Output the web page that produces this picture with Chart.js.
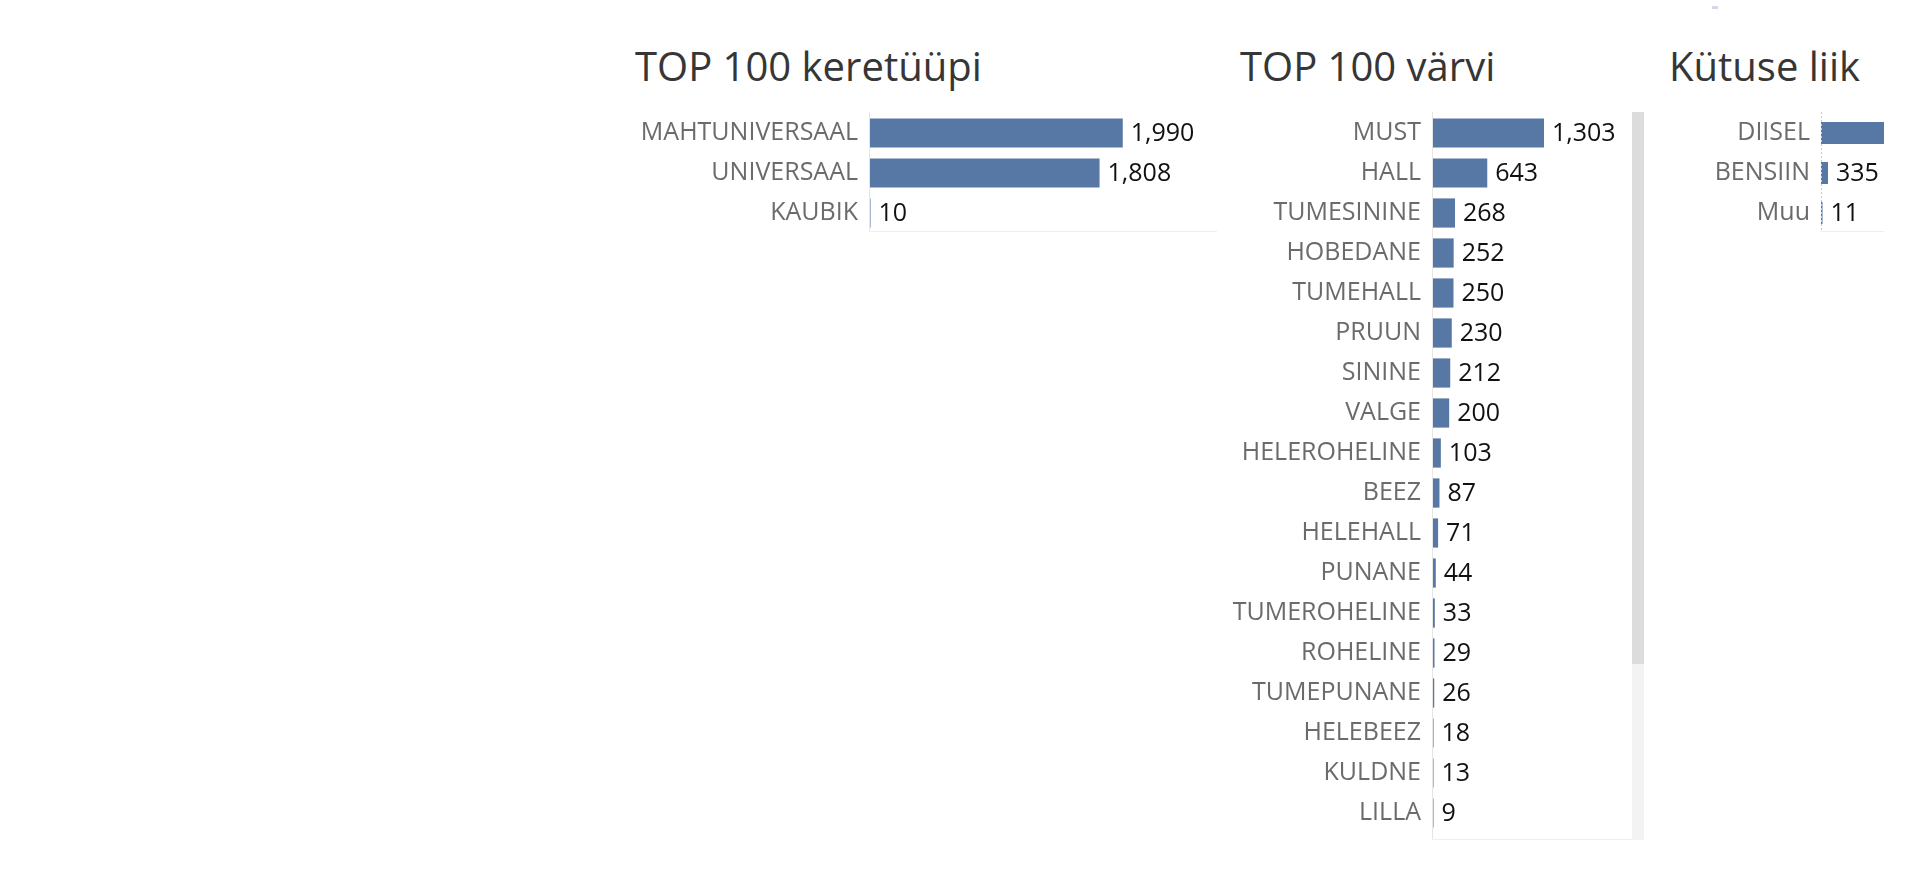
<!DOCTYPE html>
<html>
<head>
<meta charset="utf-8">
<script src="https://cdn.jsdelivr.net/npm/chart.js@4"></script>
<style>
  html, body { margin: 0; padding: 0; background: #fff; }
  body { width: 1914px; height: 892px; position: relative; overflow: hidden; font-family: "Open Sans", sans-serif; }
  .title { position: absolute; top: 41px; font-size: 40px; font-weight: 400; color: #363636; white-space: nowrap; line-height: 50px; }
  canvas { position: absolute; }
  .scroll { position: absolute; left: 1632px; width: 12px; }
</style>
</head>
<body>
<div class="title" style="left:635px">TOP 100 keretüüpi</div>
<div class="title" style="left:1240px">TOP 100 värvi</div>
<div class="title" style="left:1669px">Kütuse liik</div>
<div style="position:absolute;left:1712px;top:6px;width:6px;height:3px;background:#d3dae4"></div>

<canvas id="bodyChart" width="617" height="145" style="left:600px;top:100px"></canvas>
<canvas id="colorChart" width="432" height="745" style="left:1200px;top:100px"></canvas>
<canvas id="fuelChart" width="204" height="145" style="left:1680px;top:100px"></canvas>

<div class="scroll" style="top:112px;height:552px;background:#dcdcdc"></div>
<div class="scroll" style="top:664px;height:176px;background:#f3f3f3"></div>

<script>
// TOP 100 keretüüpi
const bodyLabels = ["MAHTUNIVERSAAL", "UNIVERSAAL", "KAUBIK"];
const bodyValues = [1990, 1808, 10];

// TOP 100 värvi
const colorLabels = ["MUST", "HALL", "TUMESININE", "HOBEDANE", "TUMEHALL", "PRUUN", "SININE", "VALGE",
  "HELEROHELINE", "BEEZ", "HELEHALL", "PUNANE", "TUMEROHELINE", "ROHELINE", "TUMEPUNANE",
  "HELEBEEZ", "KULDNE", "LILLA"];
const colorValues = [1303, 643, 268, 252, 250, 230, 212, 200, 103, 87, 71, 44, 33, 29, 26, 18, 13, 9];

// Kütuse liik (DIISEL label is cut off in the dashboard, value estimated)
const fuelLabels = ["DIISEL", "BENSIIN", "Muu"];
const fuelValues = [3462, 335, 11];

const barColor = "#5778a4";
const fontFamily = '"Open Sans", sans-serif';

// value labels + pane lines, like the tableau sheet
const tableauBits = {
  id: "tableauBits",
  afterDatasetsDraw(chart, args, opts) {
    const ctx = chart.ctx;
    const area = chart.chartArea;
    ctx.save();
    ctx.strokeStyle = "#efefef";
    ctx.lineWidth = 1;
    ctx.beginPath();
    ctx.moveTo(area.left, opts.bottom + 0.5);
    ctx.lineTo(area.right, opts.bottom + 0.5);
    ctx.stroke();

    ctx.strokeStyle = opts.dashed ? "#c8c8c8" : "#e6e6e6";
    ctx.setLineDash(opts.dashed ? [2, 2] : []);
    ctx.beginPath();
    ctx.moveTo(area.left + 0.5, 12);
    ctx.lineTo(area.left + 0.5, opts.bottom);
    ctx.stroke();
    ctx.setLineDash([]);

    ctx.font = "25px " + fontFamily;
    ctx.fillStyle = "#111";
    ctx.textBaseline = "middle";
    const meta = chart.getDatasetMeta(0);
    const data = chart.data.datasets[0].data;
    meta.data.forEach((bar, i) => {
      ctx.fillText(data[i].toLocaleString("en-US"), Math.max(bar.x, area.left + 1) + 8, bar.y + 1);
    });
    ctx.restore();
  }
};

function makeChart(id, labels, values, max, axisWidth, barPct, bottom, dashed) {
  return new Chart(document.getElementById(id), {
    type: "bar",
    data: {
      labels: labels,
      datasets: [{
        data: values,
        backgroundColor: barColor,
        barPercentage: barPct,
        categoryPercentage: 1,
        minBarLength: 1.5
      }]
    },
    options: {
      indexAxis: "y",
      responsive: false,
      animation: false,
      devicePixelRatio: 1,
      layout: { padding: { top: 13, bottom: 12, left: 0, right: 0 } },
      plugins: {
        legend: { display: false },
        tooltip: { enabled: false },
        tableauBits: { bottom: bottom, dashed: dashed }
      },
      scales: {
        x: { display: false, min: 0, max: max },
        y: {
          grid: { display: false, drawTicks: false },
          border: { display: false },
          ticks: { color: "#6b6b6b", padding: 11, font: { family: fontFamily, size: 25 } },
          afterFit(scale) {
            scale.width = axisWidth;
            scale.paddingTop = 0;
            scale.paddingBottom = 0;
          }
        }
      }
    },
    plugins: [tableauBits]
  });
}

makeChart("bodyChart", bodyLabels, bodyValues, 2729, 269, 0.73, 131, false);
makeChart("colorChart", colorLabels, colorValues, 2327, 232, 0.73, 739, false);
makeChart("fuelChart", fuelLabels, fuelValues, 3015, 141, 0.55, 131, true);
</script>
</body>
</html>
